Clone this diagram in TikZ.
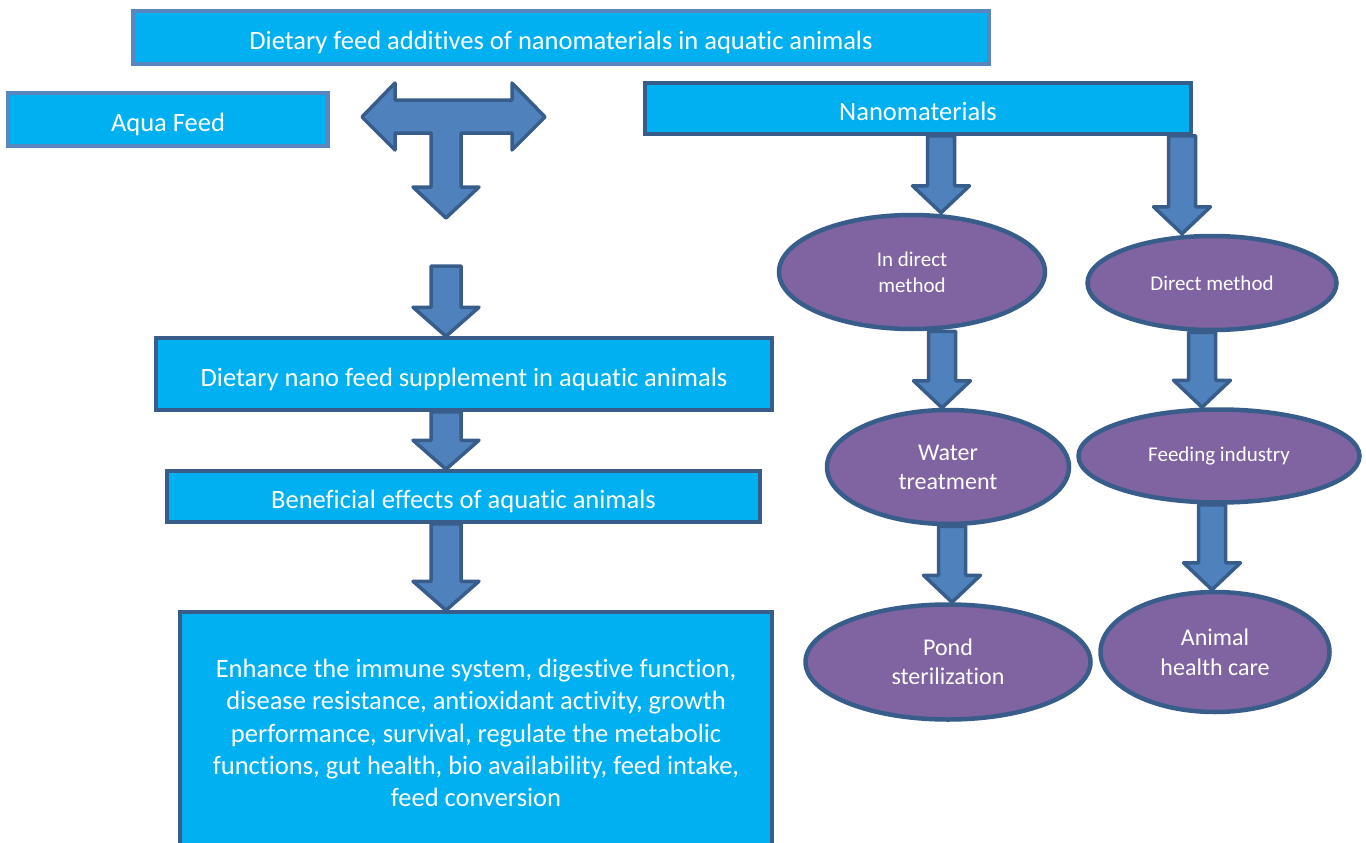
\documentclass[tikz,border=0pt]{standalone}
\usepackage{fontspec}
\setmainfont{Carlito}[Ligatures=NoCommon]
\usetikzlibrary{shapes,calc,backgrounds}

\definecolor{boxcyan}{HTML}{00B0F0}
\definecolor{ovpurple}{HTML}{8064A2}
\definecolor{arrowblue}{HTML}{4F81BD}
\definecolor{edgeblue}{HTML}{385D8A}
\definecolor{lightedge}{HTML}{5A86BF}

\tikzset{
  cyanbox/.style={draw=edgeblue, line width=3.5pt, fill=boxcyan, text=white, inner sep=0pt,
    font=\fontsize{26.5}{32}\selectfont},
  oneline/.style={text height=24pt, text depth=0pt},
  topbox/.style={cyanbox, oneline, draw=lightedge},
  oval/.style={ellipse, draw=edgeblue, line width=4.5pt, fill=ovpurple, text=white,
    inner sep=0pt, align=center},
  fatarrow/.style={draw=edgeblue, line width=3.5pt, fill=arrowblue, line join=round},
}

% block arrow straight down from #1 to #2
\newcommand{\fatdown}[2]{%
  \draw[fatarrow] let \p1=(#1), \p2=(#2) in
    (\x1-\sw,\y1) -- (\x1-\sw,\y2+\hl) -- (\x1-\hw,\y2+\hl) -- (\x1,\y2)
    -- (\x1+\hw,\y2+\hl) -- (\x1+\sw,\y2+\hl) -- (\x1+\sw,\y1) -- cycle;
}

\begin{document}
\begin{tikzpicture}[x=1pt, y=-1pt]

  \def\sw{15pt};
  \def\hw{33pt};
  \def\hl{29pt};

  \useasboundingbox (0,0) rectangle (1366,843);
  \clip (0,0) rectangle (1366,843);

  % left column
  \node[topbox, minimum width=856, minimum height=53] (title) at (561,37.5)
    {Dietary feed additives of nanomaterials in aquatic animals};
  \node[topbox, minimum width=320, minimum height=53] (aqua) at (168,119.5) {Aqua Feed};
  \node[cyanbox, oneline, minimum width=616, minimum height=72] (supp) at (464,374)
    {Dietary nano feed supplement in aquatic animals};
  \node[cyanbox, oneline, minimum width=593, minimum height=51] (benef) at (463.5,496.5)
    {Beneficial effects of aquatic animals};
  \node[cyanbox, minimum width=592, minimum height=242, align=center,
    font=\fontsize{26.5}{32.3}\selectfont] (effects) at (476,733)
    {Enhance the immune system, digestive function,\\
     disease resistance, antioxidant activity, growth\\
     performance, survival, regulate the metabolic\\
     functions, gut health, bio availability, feed intake,\\
     feed conversion};

  % right column
  \node[cyanbox, oneline, minimum width=546, minimum height=51] (nano) at (918,108.5) {Nanomaterials};
  \node[oval, minimum width=266, minimum height=114, font=\fontsize{21}{26}\selectfont]
    (indir) at (912,272) {In direct\\method};
  \node[oval, minimum width=249, minimum height=94, font=\fontsize{21}{26}\selectfont]
    (dir) at (1212,283) {Direct method};
  \node[oval, minimum width=242, minimum height=114, font=\fontsize{24}{29}\selectfont]
    (water) at (948,467) {Water\\treatment};
  \node[oval, minimum width=281, minimum height=93, font=\fontsize{21}{26}\selectfont]
    (feedind) at (1219,456) {Feeding industry};
  \node[oval, minimum width=285, minimum height=115, font=\fontsize{24}{29}\selectfont]
    (pond) at (948,662) {Pond\\sterilization};
  \node[oval, minimum width=229, minimum height=120, font=\fontsize{24}{30}\selectfont]
    (animal) at (1215,652) {Animal\\health care};

  % T shaped arrow
  \draw[fatarrow] (395,100) -- (395,83) -- (362,117) -- (395,150) -- (395,133)
    -- (431,133) -- (431,187) -- (413,187) -- (446,218) -- (479,187) -- (461,187)
    -- (461,133) -- (512,133) -- (512,150) -- (545,117) -- (512,83) -- (512,100) -- cycle;

  \coordinate (gap) at (446,266);

  \begin{pgfonlayer}{background}
    \fatdown{gap}{supp.north -| gap}
    \fatdown{supp.south -| gap}{benef.north -| gap}
    \fatdown{benef.south -| gap}{effects.north -| gap}

    \def\sw{13.5pt};
    \def\hw{28.5pt};
    \def\hl{27pt};
    \foreach \a/\b/\x in {nano/indir/941, nano/dir/1182, indir/water/942,
                          water/pond/952, dir/feedind/1202, feedind/animal/1212}{
      \coordinate (tip) at (\x,0);
      \fatdown{\a.south -| tip}{\b.north -| tip}
    }
  \end{pgfonlayer}

\end{tikzpicture}
\end{document}
